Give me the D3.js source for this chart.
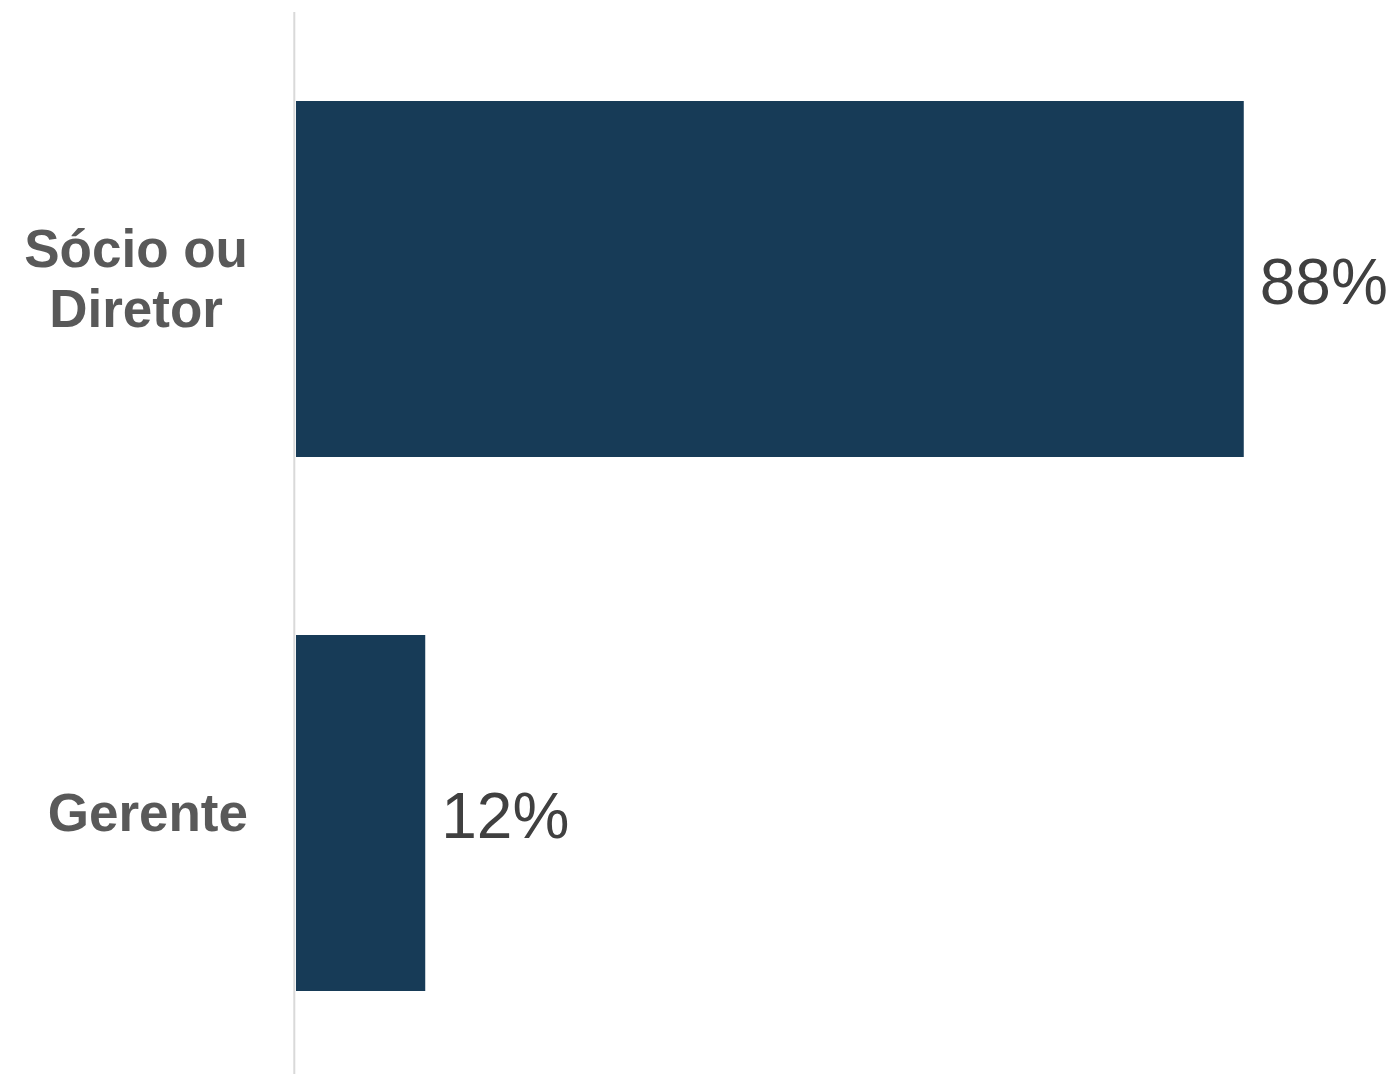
<!DOCTYPE html>
<html>
<head>
<meta charset="utf-8">
<script src="https://cdn.jsdelivr.net/npm/d3@7"></script>
<style>
  html, body { margin: 0; padding: 0; background: #fff; }
  svg { display: block; }
</style>
</head>
<body>
<script>
const categories = [["Sócio ou", "Diretor"], ["Gerente"]];
const values = [88, 12];
const valueLabels = ["88%", "12%"];

const W = 1396, H = 1074;
const svg = d3.select("body").append("svg").attr("width", W).attr("height", H);

const x0 = 296;
const x = d3.scaleLinear().domain([0, 100]).range([x0, x0 + 1077]);
const y = d3.scaleBand().domain(d3.range(categories.length)).range([12, 1080])
  .paddingInner(1 / 3).paddingOuter(1 / 6);

// bars
svg.selectAll("rect.bar").data(values).join("rect")
  .attr("class", "bar")
  .attr("x", x(0))
  .attr("y", (d, i) => y(i))
  .attr("width", d => x(d) - x(0))
  .attr("height", y.bandwidth())
  .attr("fill", "#173b57");

// axis line
svg.append("line")
  .attr("x1", 294.3).attr("x2", 294.3)
  .attr("y1", 12).attr("y2", H)
  .attr("stroke", "#d9d9d9").attr("stroke-width", 2);

// value labels
svg.selectAll("text.val").data(values).join("text")
  .attr("class", "val")
  .attr("x", d => x(d) + 16)
  .attr("y", (d, i) => y(i) + y.bandwidth() / 2 + 25)
  .attr("font-family", "'Liberation Sans', Arial, sans-serif")
  .attr("font-size", 64)
  .attr("fill", "#404040")
  .text((d, i) => valueLabels[i]);

// category labels
const rightEdge = 248;
categories.forEach((lines, i) => {
  const g = svg.append("text")
    .attr("font-family", "'Liberation Sans', Arial, sans-serif")
    .attr("font-weight", "bold")
    .attr("font-size", 53)
    .attr("fill", "#595959")
    .attr("text-anchor", "middle");
  const lh = 60;
  const cy = y(i) + y.bandwidth() / 2 + 17.5 - (lines.length - 1) * lh / 2;
  const tspans = lines.map((t, k) => g.append("tspan").attr("y", cy + k * lh).text(t));
  const maxW = d3.max(tspans, ts => ts.node().getComputedTextLength());
  tspans.forEach(ts => ts.attr("x", rightEdge - maxW / 2));
});
</script>
</body>
</html>
